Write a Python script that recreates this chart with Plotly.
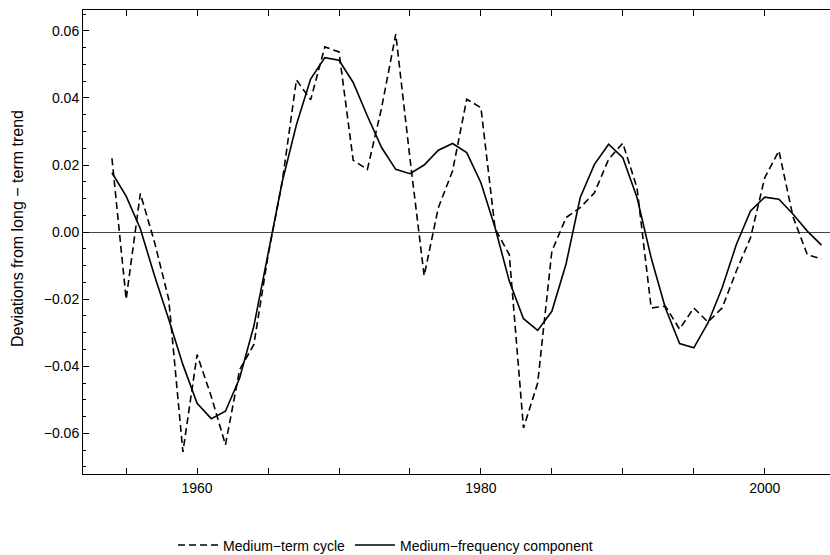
import plotly.graph_objects as go

years = list(range(1954, 2005))

medium_term_cycle = [
    0.022, -0.020, 0.0115, -0.003, -0.020, -0.0655, -0.0365, -0.049, -0.0634, -0.041,
    -0.0335, -0.007, 0.015, 0.0454, 0.0394, 0.0552, 0.0537, 0.0214, 0.0187, 0.037,
    0.059, 0.022, -0.013, 0.0073, 0.0182, 0.0396, 0.0371, 0.001, -0.0067, -0.0584,
    -0.045, -0.0057, 0.0043, 0.0073, 0.0117, 0.0217, 0.0265, 0.0132, -0.0226, -0.0221,
    -0.0289, -0.0226, -0.0268, -0.0226, -0.0116, -0.0017, 0.0162, 0.0242, 0.0045, -0.0067,
    -0.008,
]

medium_frequency_component = [
    0.0177, 0.0107, 0.001, -0.013, -0.026, -0.0395, -0.051, -0.0556, -0.0534, -0.0435,
    -0.028, -0.006, 0.015, 0.032, 0.0456, 0.052, 0.0512, 0.0446, 0.0346, 0.0252,
    0.0187, 0.0174, 0.020, 0.0244, 0.0264, 0.0237, 0.0147, 0.0013, -0.0146, -0.0258,
    -0.0293, -0.0236, -0.0095, 0.0103, 0.0202, 0.0262, 0.0222, 0.0103, -0.0077, -0.0226,
    -0.0332, -0.0345, -0.0271, -0.0166, -0.0037, 0.0063, 0.0104, 0.0098, 0.0053, 0.0003,
    -0.0039,
]

x_tick_vals = list(range(1955, 2005, 5))
x_tick_text = [str(v) if v % 20 == 0 else "" for v in x_tick_vals]
y_tick_vals = [-0.06, -0.04, -0.02, 0.0, 0.02, 0.04, 0.06]
y_tick_text = ["\u22120.06", "\u22120.04", "\u22120.02", "0.00", "0.02", "0.04", "0.06"]
y_title = "Deviations from long \u2212 term trend"

font_family = "Liberation Sans, Arial, sans-serif"

fig = go.Figure()
fig.add_trace(go.Scatter(
    x=years, y=medium_term_cycle, mode="lines", name="Medium\u2212term cycle",
    line=dict(color="black", width=1.6, dash="7px,4px"),
))
fig.add_trace(go.Scatter(
    x=years, y=medium_frequency_component, mode="lines", name="Medium\u2212frequency component",
    line=dict(color="black", width=1.6),
))

fig.add_annotation(
    text=y_title, textangle=-90, xref="paper", yref="paper",
    x=-0.0884, y=0.53, xanchor="center", yanchor="middle",
    showarrow=False, font=dict(size=16),
)

fig.update_layout(
    width=830, height=555,
    margin=dict(l=83, r=0, t=10, b=81, autoexpand=False),
    paper_bgcolor="white", plot_bgcolor="white",
    font=dict(family=font_family, size=14, color="black"),
    showlegend=True,
    legend=dict(
        orientation="h", x=0.405, xanchor="center", y=-0.154, yanchor="middle",
        font=dict(size=14), itemwidth=40, bgcolor="rgba(0,0,0,0)",
    ),
    xaxis=dict(
        range=[1951.96, 2004.6], showgrid=False, zeroline=False,
        showline=True, linecolor="black", linewidth=1, mirror="ticks",
        ticks="inside", ticklen=6, tickcolor="black", tickwidth=1,
        tickvals=x_tick_vals, ticktext=x_tick_text,
        tickfont=dict(size=14), ticklabelstandoff=1,
    ),
    yaxis=dict(
        range=[-0.0721, 0.0662], showgrid=False,
        zeroline=True, zerolinecolor="#444444", zerolinewidth=1.2,
        showline=True, linecolor="black", linewidth=1, mirror=False,
        ticks="inside", ticklen=6, tickcolor="black", tickwidth=1,
        tickvals=y_tick_vals, ticktext=y_tick_text,
        minor=dict(dtick=0.005, ticks="inside", ticklen=3, tickcolor="black", tickwidth=1),
        tickfont=dict(size=14),
    ),
)

fig.write_html("out.html")
